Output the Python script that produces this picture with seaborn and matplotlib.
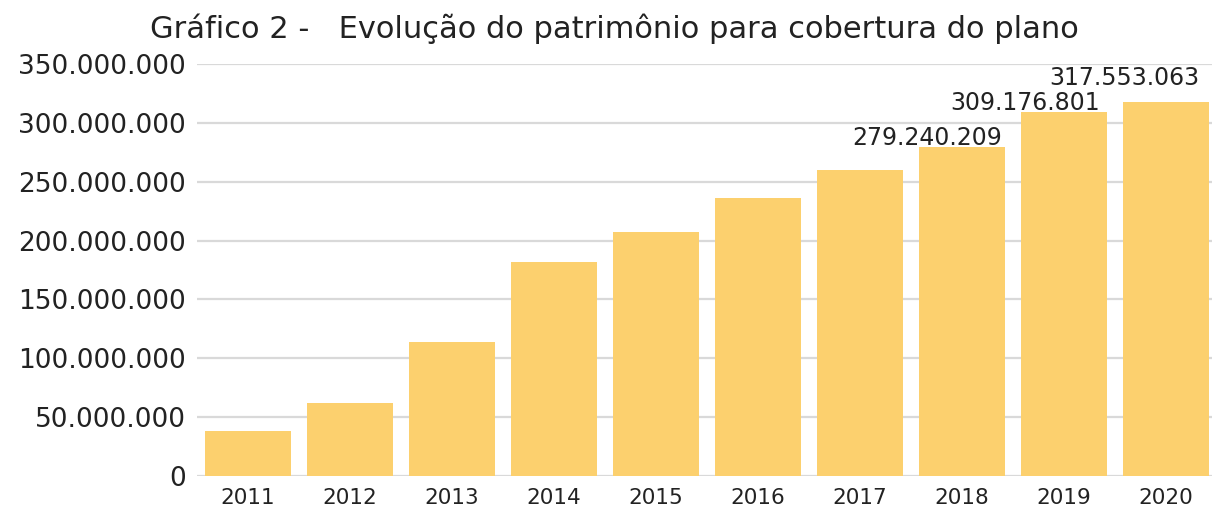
import matplotlib
matplotlib.use("Agg")
import matplotlib.pyplot as plt
import seaborn as sns
import pandas as pd

years = ["2011", "2012", "2013", "2014", "2015", "2016", "2017", "2018", "2019", "2020"]
values = [38_200_000, 62_300_000, 113_800_000, 181_800_000, 207_300_000,
          236_200_000, 260_000_000, 279_240_209, 309_176_801, 317_553_063]
labels = ["", "", "", "", "", "", "", "279.240.209", "309.176.801", "317.553.063"]
yticks = [0, 50_000_000, 100_000_000, 150_000_000, 200_000_000, 250_000_000, 300_000_000, 350_000_000]
title = "Gráfico 2 -   Evolução do patrimônio para cobertura do plano"

sns.set_theme(style="white")
plt.rcParams["font.family"] = ["DejaVu Sans"]

df = pd.DataFrame({"ano": years, "valor": values})

fig = plt.figure(figsize=(12.12, 5.18), dpi=100)
ax = fig.add_axes([0.1625, 0.0811, 0.8375, 0.7954])
sns.barplot(data=df, x="ano", y="valor", color="#FCD06E", saturation=1,
            width=0.84, ax=ax, zorder=3)
for p in ax.patches:
    p.set_edgecolor("none")

ax.set_ylim(0, 350_000_000)
ax.set_xlim(-0.5, 9.45)
ax.set_yticks(yticks)
ax.set_yticklabels([f"{v:,}".replace(",", ".") for v in yticks])
ax.yaxis.grid(True, color="#d9d9d9", linewidth=1.6, zorder=0)
ax.set_axisbelow(True)
for s in ax.spines.values():
    s.set_visible(False)
ax.set_xlabel("")
ax.set_ylabel("")
ax.tick_params(axis="y", length=0, pad=8, labelsize=19, labelcolor="#222222")
ax.tick_params(axis="x", length=0, pad=9, labelsize=15.5, labelcolor="#222222")

offsets = [(0, 0)] * 7 + [(-25, -2), (-28, -2), (-30, 9)]
for i, (lab, v) in enumerate(zip(labels, values)):
    if lab:
        ax.annotate(lab, xy=(i, v), xytext=offsets[i], textcoords="offset points",
                    ha="center", va="bottom", fontsize=17, color="#222222")

fig.text(0.507, 0.944, title, ha="center", va="center", fontsize=22, color="#222222")

fig.savefig("out.png", dpi=100)
